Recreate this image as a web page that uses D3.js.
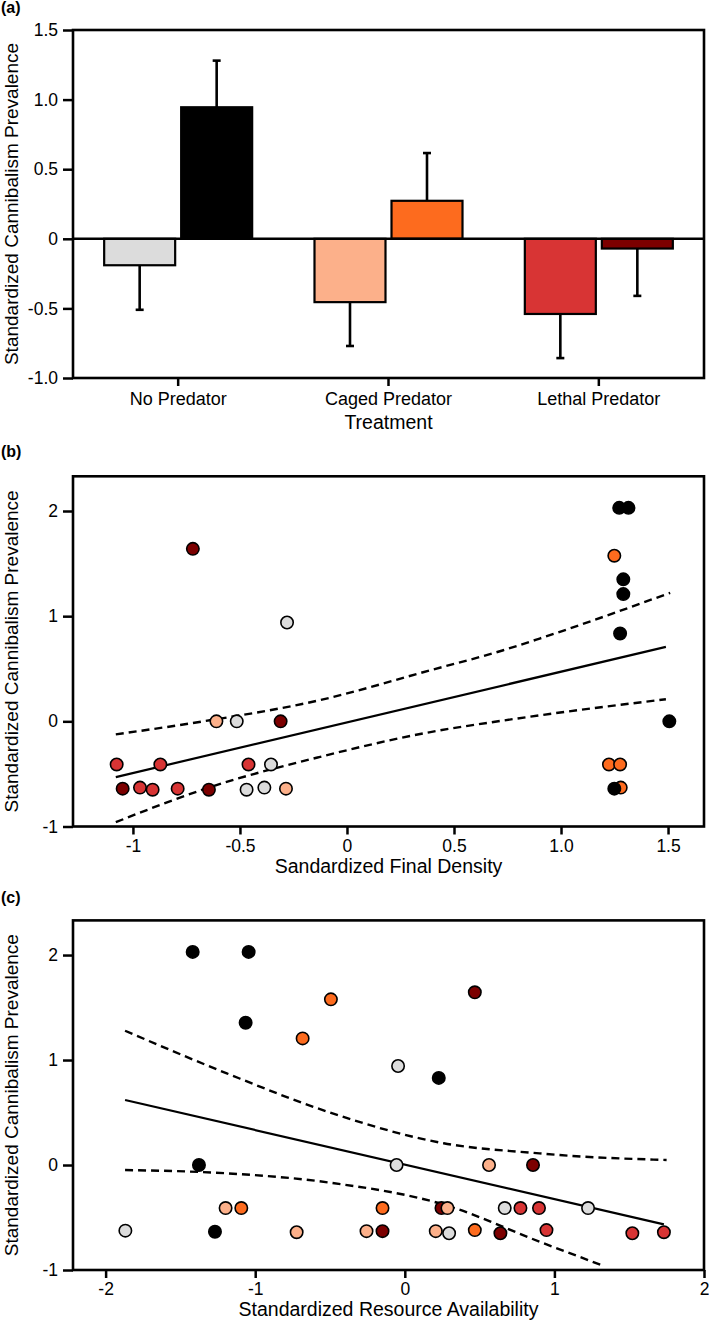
<!DOCTYPE html>
<html><head><meta charset="utf-8">
<script src="https://cdn.jsdelivr.net/npm/d3@7"></script>
<style>
body{margin:0;background:#fff}
svg{display:block}
text{font-family:"Liberation Sans",Arial,Helvetica,sans-serif;fill:#000}
</style>
</head><body>
<svg id="fig" width="709" height="1323"></svg>
<script>
// ---------- Panel (a) data ----------
const categories = ["No Predator", "Caged Predator", "Lethal Predator"];
const lowMeans  = [-0.19, -0.455, -0.54];
const lowSE     = [0.32, 0.315, 0.317];
const highMeans = [0.945, 0.273, -0.07];
const highSE    = [0.335, 0.343, 0.34];
const barYTicks = [-1, -0.5, 0, 0.5, 1, 1.5];
const barYTickLabels = ["-1.0", "-0.5", "0", "0.5", "1.0", "1.5"];

// Treatment groups (colour key)
const groups = ["NP-low", "NP-high", "CP-low", "CP-high", "LP-low", "LP-high"];
const groupColors = ["#dcdcdc", "#000000", "#fcb08a", "#fd6b1e", "#d83434", "#7c0000"];
const lowGroups = ["NP-low", "CP-low", "LP-low"];
const highGroups = ["NP-high", "CP-high", "LP-high"];

// ---------- Panel (b) data ----------
const densX = [-0.28, -0.515, -0.355, -0.469, -0.386,
  -0.61, -0.285,
  -1.076, -0.872, -0.46, -0.967, -0.908, -0.791,
  -0.72, -0.31, -1.048, -0.645,
  1.249, 1.224, 1.276, 1.279,
  1.272, 1.315, 1.291, 1.291, 1.276, 1.506, 1.249];
const densY = [0.94, 0, -0.41, -0.65, -0.63,
  0, -0.64,
  -0.41, -0.41, -0.41, -0.63, -0.65, -0.64,
  1.64, 0, -0.64, -0.65,
  1.575, -0.41, -0.41, -0.63,
  2.03, 2.03, 1.35, 1.21, 0.835, 0, -0.64];
const densG = ["NP-low","NP-low","NP-low","NP-low","NP-low",
  "CP-low","CP-low",
  "LP-low","LP-low","LP-low","LP-low","LP-low","LP-low",
  "LP-high","LP-high","LP-high","LP-high",
  "CP-high","CP-high","CP-high","CP-high",
  "NP-high","NP-high","NP-high","NP-high","NP-high","NP-high","NP-high"];
const densFitX = [-1.08, 1.49];
const densFitY = [-0.53, 0.708];
const densUpX = [-1.08, -0.69, -0.13, 0.39, 0.73, 0.9, 1.51];
const densUpY = [-0.124, -0.006, 0.2, 0.486, 0.676, 0.787, 1.222];
const densLoX = [-1.08, -0.64, -0.13, 0.39, 0.715, 0.9, 1.49];
const densLoY = [-0.959, -0.626, -0.34, -0.102, 0.003, 0.057, 0.21];
const densXTicks = [-1, -0.5, 0, 0.5, 1, 1.5];
const densXTickLabels = ["-1", "-0.5", "0", "0.5", "1.0", "1.5"];

// ---------- Panel (c) data ----------
const resX = [-1.418, -1.044, -1.064, -1.376, -1.269, 0.227,
  -0.494, -0.683, -1.093, -0.149, 0.468,
  -1.198, -0.723, 0.563, -0.256,
  -1.868, -0.045, -0.055, 0.668, 1.225,
  0.468, 0.857, 0.245, -0.149, 0.639,
  0.285, 0.207, 0.296,
  0.773, 0.897, 0.947, 1.521, 1.732];
const resY = [2.03, 2.03, 1.355, 0, -0.635, 0.83,
  1.578, 1.206, -0.41, -0.41, -0.62,
  -0.41, -0.64, 0, -0.63,
  -0.625, 0.943, 0, -0.41, -0.41,
  1.645, 0, -0.41, -0.63, -0.65,
  -0.41, -0.63, -0.65,
  -0.41, -0.41, -0.62, -0.65, -0.64];
const resG = ["NP-high","NP-high","NP-high","NP-high","NP-high","NP-high",
  "CP-high","CP-high","CP-high","CP-high","CP-high",
  "CP-low","CP-low","CP-low","CP-low",
  "NP-low","NP-low","NP-low","NP-low","NP-low",
  "LP-high","LP-high","LP-high","LP-high","LP-high",
  "CP-low","CP-low","NP-low",
  "LP-low","LP-low","LP-low","LP-low","LP-low"];
const resFitX = [-1.87, 1.732];
const resFitY = [0.619, -0.565];
const resUpX = [-1.87, -1.19, -0.5, 0.26, 0.9, 1.035, 1.75];
const resUpY = [1.279, 0.873, 0.5, 0.207, 0.111, 0.095, 0.048];
const resLoX = [-1.87, -1.19, -0.5, 0.27, 0.9, 1.336];
const resLoY = [-0.048, -0.079, -0.168, -0.381, -0.73, -0.965];
const resXTicks = [-2, -1, 0, 1, 2];
const resXTickLabels = ["-2", "-1", "0", "1", "2"];

const scatYTicks = [-1, 0, 1, 2];
const scatYTickLabels = ["-1", "0", "1", "2"];

// ---------- drawing ----------
const svg = d3.select("#fig");
const color = d3.scaleOrdinal().domain(groups).range(groupColors);
const L = 73, R = 704;
const tickFont = "17.5px", titleFont = "19.5px";
const yTitle = "Standardized Cannibalism Prevalence";

function styleAxis(g) {
  g.select(".domain").remove();
  g.selectAll(".tick line").attr("stroke", "#000").attr("stroke-width", 2.5);
  g.selectAll(".tick text").style("font-size", tickFont).attr("fill", "#000");
}
function frame(top, bottom) {
  svg.append("rect").attr("x", L).attr("y", top).attr("width", R - L).attr("height", bottom - top)
    .attr("fill", "none").attr("stroke", "#000").attr("stroke-width", 2.6);
}
function panelLabel(t, y) {
  svg.append("text").attr("x", 1).attr("y", y).text(t)
    .style("font-size", "16px").style("font-weight", "bold");
}
function yTitleText(cy) {
  svg.append("text").attr("transform", `translate(18,${cy}) rotate(-90)`)
    .attr("text-anchor", "middle").style("font-size", "19px").text(yTitle);
}

// ===== Panel (a) =====
{
  const top = 30, bottom = 378;
  const y = d3.scaleLinear().domain([-1, 1.5]).range([bottom, top]);
  const x0 = d3.scaleBand().domain(categories).range([L, R]).padding(0);
  const bw = x0.bandwidth();
  const x1 = d3.scaleBand().domain(["low", "high"]).range([bw / 2 - 74, bw / 2 + 74]).paddingInner(0.078).paddingOuter(0);
  panelLabel("(a)", 13);

  const bars = [];
  categories.forEach((c, i) => {
    bars.push({c, k: "low", v: lowMeans[i], se: lowSE[i], g: lowGroups[i]});
    bars.push({c, k: "high", v: highMeans[i], se: highSE[i], g: highGroups[i]});
  });
  const gb = svg.append("g");
  bars.forEach(b => {
    const cx = x0(b.c) + x1(b.k) + x1.bandwidth() / 2;
    const end = b.v >= 0 ? b.v + b.se : b.v - b.se;
    gb.append("line").attr("x1", cx).attr("x2", cx).attr("y1", y(b.v)).attr("y2", y(end))
      .attr("stroke", "#000").attr("stroke-width", 2.6);
    gb.append("line").attr("x1", cx - 4).attr("x2", cx + 4).attr("y1", y(end)).attr("y2", y(end))
      .attr("stroke", "#000").attr("stroke-width", 2.6);
  });
  gb.selectAll("rect").data(bars).join("rect")
    .attr("x", d => x0(d.c) + x1(d.k))
    .attr("width", x1.bandwidth())
    .attr("y", d => y(Math.max(0, d.v)))
    .attr("height", d => Math.abs(y(d.v) - y(0)))
    .attr("fill", d => color(d.g)).attr("stroke", "#000").attr("stroke-width", 2.2);
  svg.append("line").attr("x1", L).attr("x2", R).attr("y1", y(0)).attr("y2", y(0))
    .attr("stroke", "#000").attr("stroke-width", 2.6);
  frame(top, bottom);
  svg.append("g").attr("transform", `translate(${L},0)`)
    .call(d3.axisLeft(y).tickValues(barYTicks).tickFormat((d, i) => barYTickLabels[i]).tickSize(10).tickPadding(5))
    .call(styleAxis);
  svg.append("g").attr("transform", `translate(0,${bottom})`)
    .call(d3.axisBottom(x0).tickSize(8).tickPadding(6))
    .call(styleAxis)
    .call(g => g.selectAll(".tick text").style("font-size", "18px"));
  svg.append("text").attr("x", (L + R) / 2).attr("y", 429).attr("text-anchor", "middle")
    .style("font-size", titleFont).text("Treatment");
  yTitleText((top + bottom) / 2);
}

// ===== scatter panels =====
function scatter(o) {
  const y = d3.scaleLinear().domain([-1, 2.33]).range([o.bottom, o.top]);
  const x = d3.scaleLinear().domain(o.xDomain).range([L, R]);
  panelLabel(o.label, o.labelY);
  const line = d3.line().x(d => x(d[0])).y(d => y(d[1]));
  const curve = d3.line().x(d => x(d[0])).y(d => y(d[1])).curve(d3.curveMonotoneX);
  svg.append("path").attr("d", curve(d3.zip(o.upX, o.upY))).attr("fill", "none")
    .attr("stroke", "#000").attr("stroke-width", 2.4).attr("stroke-dasharray", "8,5");
  svg.append("path").attr("d", curve(d3.zip(o.loX, o.loY))).attr("fill", "none")
    .attr("stroke", "#000").attr("stroke-width", 2.4).attr("stroke-dasharray", "8,5");
  svg.append("path").attr("d", line(d3.zip(o.fitX, o.fitY))).attr("fill", "none")
    .attr("stroke", "#000").attr("stroke-width", 2.2);
  const pts = o.xs.map((v, i) => ({x: v, y: o.ys[i], g: o.gs[i]}));
  svg.append("g").selectAll("circle").data(pts).join("circle")
    .attr("cx", d => x(d.x)).attr("cy", d => y(d.y)).attr("r", 6.2)
    .attr("fill", d => color(d.g)).attr("stroke", "#000").attr("stroke-width", 1.6);
  frame(o.top, o.bottom);
  svg.append("g").attr("transform", `translate(${L},0)`)
    .call(d3.axisLeft(y).tickValues(scatYTicks).tickFormat((d, i) => scatYTickLabels[i]).tickSize(10).tickPadding(5))
    .call(styleAxis);
  svg.append("g").attr("transform", `translate(0,${o.bottom})`)
    .call(d3.axisBottom(x).tickValues(o.xTicks).tickFormat((d, i) => o.xTickLabels[i]).tickSize(8).tickPadding(5))
    .call(styleAxis);
  svg.append("text").attr("x", (L + R) / 2).attr("y", o.xTitleY).attr("text-anchor", "middle")
    .style("font-size", titleFont).text(o.xTitle);
  yTitleText((o.top + o.bottom) / 2);
}

scatter({label: "(b)", labelY: 457, top: 476.3, bottom: 826.5, xDomain: [-1.28, 1.668],
  xs: densX, ys: densY, gs: densG, fitX: densFitX, fitY: densFitY,
  upX: densUpX, upY: densUpY, loX: densLoX, loY: densLoY,
  xTicks: densXTicks, xTickLabels: densXTickLabels,
  xTitle: "Sandardized Final Density", xTitleY: 873});

scatter({label: "(c)", labelY: 903, top: 920.4, bottom: 1270, xDomain: [-2.218, 2],
  xs: resX, ys: resY, gs: resG, fitX: resFitX, fitY: resFitY,
  upX: resUpX, upY: resUpY, loX: resLoX, loY: resLoY,
  xTicks: resXTicks, xTickLabels: resXTickLabels,
  xTitle: "Standardized Resource Availability", xTitleY: 1316});
</script>
</body></html>
